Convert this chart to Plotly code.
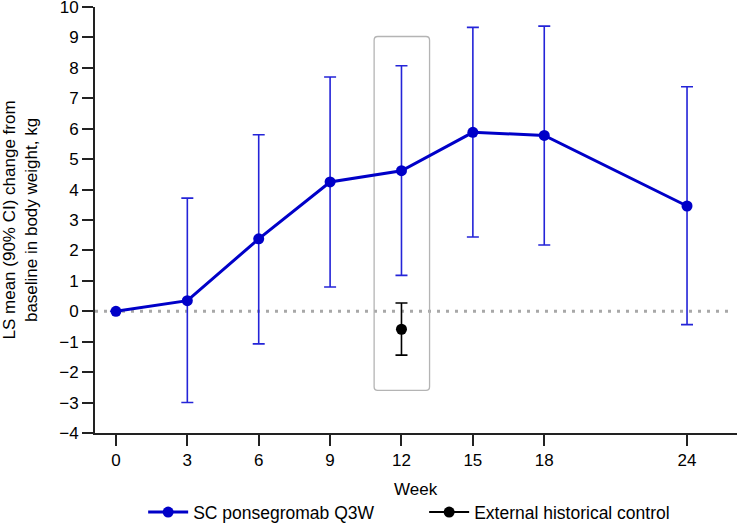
import plotly.graph_objects as go

# Data
weeks = [0, 3, 6, 9, 12, 15, 18, 24]
ls_mean = [0.0, 0.35, 2.38, 4.25, 4.62, 5.88, 5.78, 3.46]
ci_upper = [None, 3.72, 5.80, 7.70, 8.07, 9.33, 9.37, 7.38]
ci_lower = [None, -3.00, -1.07, 0.80, 1.18, 2.44, 2.18, -0.44]

control_week = [12]
control_mean = [-0.59]
control_upper = [0.27]
control_lower = [-1.44]

x_ticks = [0, 3, 6, 9, 12, 15, 18, 24]
y_ticks = list(range(-4, 11))

BLUE = '#0000c8'
BLUE_ERR = '#2424d8'
FONT = 'Liberation Sans, Arial, sans-serif'


def _plus(upper, mean):
    return [u - m if u is not None else 0 for u, m in zip(upper, mean)]


def _minus(lower, mean):
    return [m - l if l is not None else 0 for l, m in zip(lower, mean)]


fig = go.Figure()
fig.add_trace(
    go.Scatter(
        name='SC ponsegromab Q3W',
        x=weeks,
        y=ls_mean,
        mode='lines+markers',
        line=dict(color=BLUE, width=3),
        marker=dict(color=BLUE, size=11),
        error_y=dict(
            type='data',
            symmetric=False,
            array=_plus(ci_upper, ls_mean),
            arrayminus=_minus(ci_lower, ls_mean),
            color=BLUE_ERR,
            thickness=1.6,
            width=6,
        ),
    )
)
fig.add_trace(
    go.Scatter(
        name='External historical control',
        x=control_week,
        y=control_mean,
        mode='lines+markers',
        line=dict(color='black', width=2),
        marker=dict(color='black', size=11),
        error_y=dict(
            type='data',
            symmetric=False,
            array=_plus(control_upper, control_mean),
            arrayminus=_minus(control_lower, control_mean),
            color='black',
            thickness=1.6,
            width=6,
        ),
    )
)

# dotted zero reference line
fig.add_shape(
    type='line', xref='paper', yref='y', x0=0, x1=0.993, y0=0, y1=0,
    line=dict(color='#a8a8a8', width=3, dash='3px,6px'), layer='below',
)

# rounded box highlighting week 12
bx0, bx1, by0, by1, rx, ry = 10.85, 13.18, -2.6, 9.03, 0.15, 0.12
box_path = (
    f'M {bx0 + rx},{by1} L {bx1 - rx},{by1} Q {bx1},{by1} {bx1},{by1 - ry} '
    f'L {bx1},{by0 + ry} Q {bx1},{by0} {bx1 - rx},{by0} '
    f'L {bx0 + rx},{by0} Q {bx0},{by0} {bx0},{by0 + ry} '
    f'L {bx0},{by1 - ry} Q {bx0},{by1} {bx0 + rx},{by1} Z'
)
fig.add_shape(type='path', path=box_path, xref='x', yref='y',
              line=dict(color='#b4b4b4', width=1.3), layer='below')

# axis titles as annotations (standoff is ignored without automargin)
fig.add_annotation(
    text='LS mean (90% CI) change from<br>baseline in body weight, kg',
    xref='paper', yref='paper', x=-0.1176, y=0.5, xanchor='center', yanchor='middle',
    textangle=-90, showarrow=False, font=dict(size=17),
)
fig.add_annotation(
    text='Week', xref='paper', yref='paper', x=0.5, y=-0.1315,
    xanchor='center', yanchor='middle', showarrow=False, font=dict(size=17),
)

fig.update_layout(
    width=737,
    height=528,
    margin=dict(l=95, r=0, t=7, b=95, autoexpand=False),
    plot_bgcolor='white',
    paper_bgcolor='white',
    font=dict(family=FONT, size=17, color='black'),
    showlegend=True,
    legend=dict(
        orientation='h', x=0.075, xanchor='left',
        yref='container', y=0.03, yanchor='middle',
        font=dict(size=17.5), itemwidth=40, entrywidth=226, tracegroupgap=0,
    ),
)
fig.update_xaxes(
    range=[-0.88, 26.1],
    tickvals=x_ticks,
    ticks='outside', ticklen=11, tickwidth=2, tickcolor='#222',
    showline=True, linecolor='#222', linewidth=2,
    showgrid=False, zeroline=False, automargin=False,
    tickfont=dict(size=17),
)
fig.update_yaxes(
    range=[-4, 10],
    tickvals=y_ticks,
    ticks='outside', ticklen=11, tickwidth=2, tickcolor='#222',
    showline=True, linecolor='#222', linewidth=2,
    showgrid=False, zeroline=False, automargin=False,
    ticklabeloverflow='allow',
    tickfont=dict(size=17),
)

# page body has a default margin; drop it so the figure fills the window
fig.write_html(
    "out.html",
    config={'displayModeBar': False},
    post_script="document.body.style.margin = '0';",
)
